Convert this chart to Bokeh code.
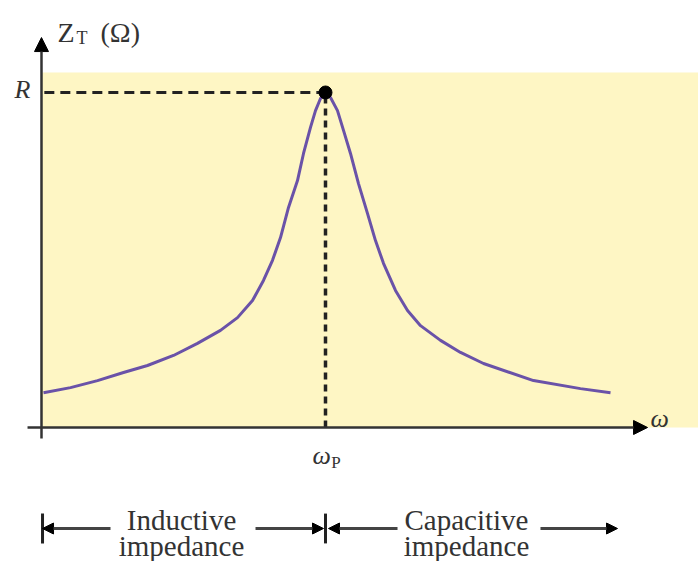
from bokeh.plotting import figure
from bokeh.models import Range1d, Label, Arrow, NormalHead, ColumnDataSource
from bokeh.embed import file_html
from bokeh.resources import INLINE

# ---- data (R normalised to 1, omega_p = 5) ----
omega = [0.035, 0.511, 0.986, 1.444, 1.866, 2.324, 2.746, 3.151, 3.451, 3.715,
         3.908, 4.067, 4.208, 4.349, 4.507, 4.613, 4.736, 4.824, 4.912, 5.0,
         5.088, 5.211, 5.317, 5.440, 5.581, 5.739, 5.880, 6.021, 6.232, 6.444,
         6.673, 7.025, 7.377, 7.782, 8.662, 9.489, 10.018]
z_t = [0.104, 0.119, 0.140, 0.164, 0.185, 0.215, 0.251, 0.290, 0.328, 0.379,
       0.439, 0.499, 0.567, 0.657, 0.737, 0.818, 0.896, 0.946, 0.982, 1.0,
       0.985, 0.946, 0.887, 0.818, 0.728, 0.639, 0.558, 0.490, 0.409, 0.349,
       0.304, 0.260, 0.224, 0.191, 0.140, 0.116, 0.104]
R = 1.0
omega_p = 5.0
y_label = "Z"
y_label_sub = "T"
y_label_unit = "(Ω)"
x_label = "ω"
peak_label = "R"
wp_label = "ω"
wp_sub = "P"
region_labels = [("Inductive", "impedance"), ("Capacitive", "impedance")]

SERIF = "Liberation Serif"
INK = "#333333"

p = figure(width=698, height=561,
           x_range=Range1d(-0.7218, 11.567), y_range=Range1d(-0.4, 1.2746),
           output_backend="svg", toolbar_location=None, min_border=0,
           x_axis_location=None, y_axis_location=None)
p.grid.visible = False
p.outline_line_color = None
p.background_fill_color = "white"
p.border_fill_color = "white"

# shaded region
p.quad(left=0, right=12, bottom=0, top=1.06, fill_color="#FEF6C4", line_color=None)

# dashed guides
p.line([0.05, omega_p], [R, R], line_color="#222222", line_width=3, line_dash="10 6")
p.line([omega_p, omega_p], [0, R], line_color="#222222", line_width=3.5, line_dash="7 5")

# curve
src = ColumnDataSource(data=dict(omega=omega, z=z_t))
p.line("omega", "z", source=src, line_color="#6A52A8", line_width=3, line_join="round")

# peak dot
p.scatter([omega_p], [R], size=13, color="black")

# axes with arrows
p.add_layout(Arrow(end=NormalHead(size=14, fill_color="black", line_color="black"),
                   x_start=0, y_start=-0.033, x_end=0, y_end=1.164,
                   line_color=INK, line_width=2.5))
p.add_layout(Arrow(end=NormalHead(size=14, fill_color="black", line_color="black"),
                   x_start=-0.246, y_start=0, x_end=10.67, y_end=0,
                   line_color=INK, line_width=2.5))

# axis texts
p.add_layout(Label(x=0.282, y=1.179, text=y_label, text_font=SERIF, text_font_size="28px",
                   text_color=INK, text_baseline="alphabetic", text_align="left"))
p.add_layout(Label(x=0.616, y=1.164, text=y_label_sub, text_font=SERIF, text_font_size="18px",
                   text_color=INK, text_baseline="alphabetic", text_align="left"))
p.add_layout(Label(x=1.039, y=1.179, text=y_label_unit, text_font=SERIF, text_font_size="28px",
                   text_color=INK, text_baseline="alphabetic", text_align="left"))
p.add_layout(Label(x=-0.194, y=1.009, text=peak_label, text_font=SERIF, text_font_size="26px",
                   text_font_style="italic", text_color=INK, text_baseline="middle",
                   text_align="right"))
p.add_layout(Label(x=10.72, y=0.027, text=x_label, text_font=SERIF, text_font_size="26px",
                   text_font_style="italic", text_color=INK, text_baseline="alphabetic",
                   text_align="left"))
p.add_layout(Label(x=4.771, y=-0.0836, text=wp_label, text_font=SERIF, text_font_size="26px",
                   text_font_style="italic", text_color=INK, text_baseline="alphabetic",
                   text_align="left"))
p.add_layout(Label(x=5.10, y=-0.1045, text=wp_sub, text_font=SERIF, text_font_size="17px",
                   text_color=INK, text_baseline="alphabetic", text_align="left"))

# region labels
for cx, (l1, l2) in zip([2.465, 7.482], region_labels):
    p.add_layout(Label(x=cx, y=-0.2776, text=l1, text_font=SERIF, text_font_size="29px",
                       text_color=INK, text_baseline="alphabetic", text_align="center"))
    p.add_layout(Label(x=cx, y=-0.3552, text=l2, text_font=SERIF, text_font_size="29px",
                       text_color=INK, text_baseline="alphabetic", text_align="center"))

# region arrows and bars
ya = -0.3015
for xb in [0.018, omega_p]:
    p.line([xb, xb], [-0.257, -0.346], line_color="#222222", line_width=3)
for xs, xe in [(1.215, 0.018), (3.768, 4.965), (6.268, 5.053), (8.785, 10.141)]:
    p.add_layout(Arrow(end=NormalHead(size=11, fill_color="black", line_color="black"),
                       x_start=xs, y_start=ya, x_end=xe, y_end=ya,
                       line_color="#444444", line_width=3))

open("out.html", "w").write(file_html(p, INLINE))
